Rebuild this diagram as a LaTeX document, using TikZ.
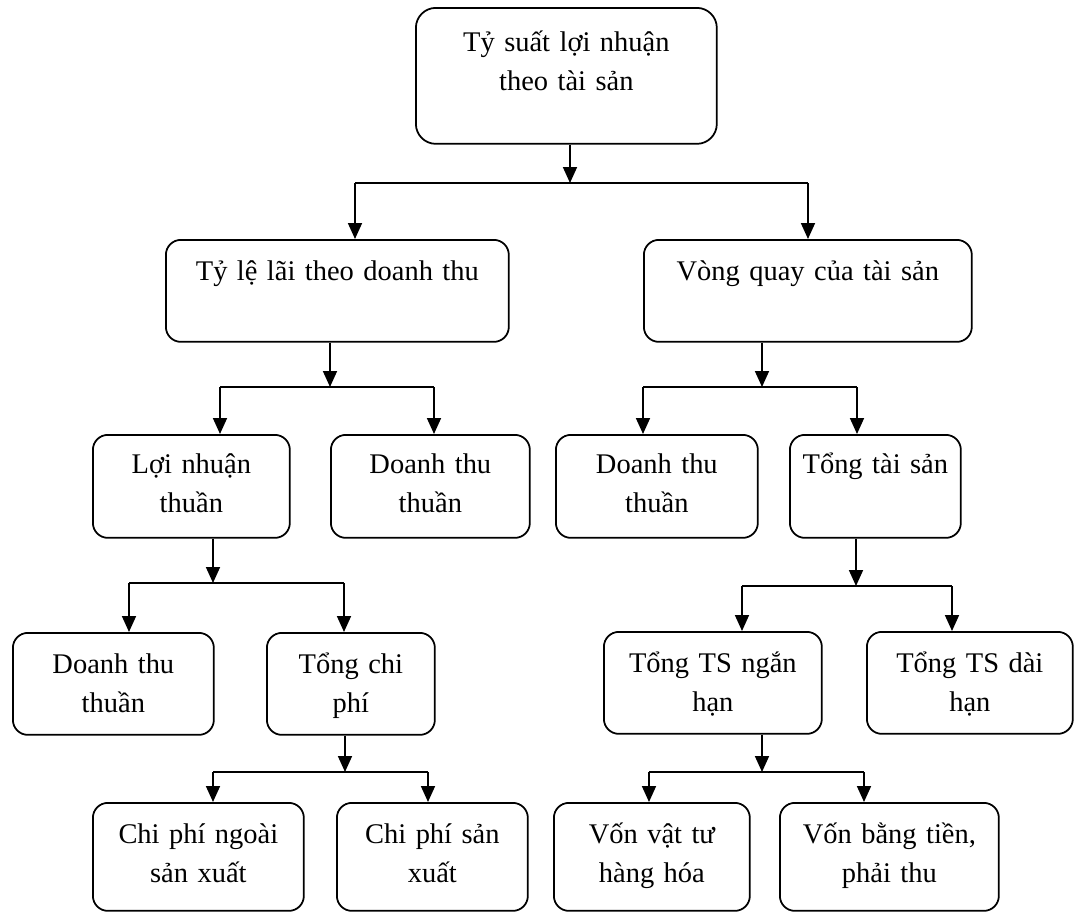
\documentclass[tikz,border=0pt]{standalone}
\usepackage{fontspec}
\setmainfont{Liberation Serif}
\usetikzlibrary{arrows.meta}

\begin{document}
\begin{tikzpicture}
	[x=0.02cm,y=-0.02cm,line width=1pt,every node/.style={draw,rounded corners=0.3cm,inner sep=0pt,align=center,anchor=north west,font=\fontsize{16.2}{22}\selectfont,text height=0.82cm,text depth=1.22cm}, edge/.style={->,> = {Triangle[length=0.32cm,width=0.28cm]}}]
	\useasboundingbox (0,0) rectangle (1086,913);
	
	\node[text width=6.02cm,text height=0.88cm,text depth=1.84cm,rounded corners=0.4cm] (tsln) at (415,7) {Tỷ suất lợi nhuận\\theo tài sản};
	
	\node[text width=6.86cm] (lai) at (165,239) {Tỷ lệ lãi theo doanh thu};
	\node[text width=6.56cm] (vong) at (643,239) {Vòng quay của tài sản};
	
	\node[text width=3.94cm,text height=0.78cm,text depth=1.28cm] (lnt) at (92,434) {Lợi nhuận\\thuần};
	\node[text width=3.98cm,text height=0.78cm,text depth=1.28cm] (dtt1) at (330,434) {Doanh thu\\thuần};
	\node[text width=4.04cm,text height=0.78cm,text depth=1.28cm] (dtt2) at (555,434) {Doanh thu\\thuần};
	\node[text width=3.42cm,text height=0.78cm,text depth=1.28cm] (tts) at (789,434) {Tổng tài sản};
	
	\node[text width=4.02cm] (dtt3) at (12,632) {Doanh thu\\thuần};
	\node[text width=3.36cm] (tcp) at (266,632) {Tổng chi\\phí};
	\node[text width=4.36cm] (tsnh) at (603,631) {Tổng TS ngắn\\hạn};
	\node[text width=4.12cm] (tsdh) at (866,631) {Tổng TS dài\\hạn};
	
	\node[text width=4.22cm,text depth=1.34cm] (cpnsx) at (92,802) {Chi phí ngoài\\sản xuất};
	\node[text width=3.82cm,text depth=1.34cm] (cpsx) at (336,802) {Chi phí sản\\xuất};
	\node[text width=3.92cm,text depth=1.34cm] (vvt) at (553,802) {Vốn vật tư\\hàng hóa};
	\node[text width=4.38cm,text depth=1.34cm] (vbt) at (779,802) {Vốn bằng tiền,\\phải thu};
	
	% branch points
	\coordinate (j1) at (570,183); \coordinate (j1l) at (355,183); \coordinate (j1r) at (808,183);
	\coordinate (j2) at (330,387); \coordinate (j2l) at (220,387); \coordinate (j2r) at (434,387);
	\coordinate (j3) at (762,387); \coordinate (j3l) at (643,387); \coordinate (j3r) at (857,387);
	\coordinate (j4) at (213,583); \coordinate (j4l) at (129,583); \coordinate (j4r) at (344,583);
	\coordinate (j5) at (856,586); \coordinate (j5l) at (742,586); \coordinate (j5r) at (952,586);
	\coordinate (j6) at (345,772); \coordinate (j6l) at (213,772); \coordinate (j6r) at (428,772);
	\coordinate (j7) at (762,772); \coordinate (j7l) at (649,772); \coordinate (j7r) at (864,772);
	
	\draw[edge] (tsln.south -| j1) -- (j1);
	\draw (j1l) -- (j1r);
	\draw[edge] (j1l) -- (j1l |- lai.north);
	\draw[edge] (j1r) -- (j1r |- vong.north);
	
	\draw[edge] (lai.south -| j2) -- (j2);
	\draw (j2l) -- (j2r);
	\draw[edge] (j2l) -- (j2l |- lnt.north);
	\draw[edge] (j2r) -- (j2r |- dtt1.north);
	
	\draw[edge] (vong.south -| j3) -- (j3);
	\draw (j3l) -- (j3r);
	\draw[edge] (j3l) -- (j3l |- dtt2.north);
	\draw[edge] (j3r) -- (j3r |- tts.north);
	
	\draw[edge] (lnt.south -| j4) -- (j4);
	\draw (j4l) -- (j4r);
	\draw[edge] (j4l) -- (j4l |- dtt3.north);
	\draw[edge] (j4r) -- (j4r |- tcp.north);
	
	\draw[edge] (tts.south -| j5) -- (j5);
	\draw (j5l) -- (j5r);
	\draw[edge] (j5l) -- (j5l |- tsnh.north);
	\draw[edge] (j5r) -- (j5r |- tsdh.north);
	
	\draw[edge] (tcp.south -| j6) -- (j6);
	\draw (j6l) -- (j6r);
	\draw[edge] (j6l) -- (j6l |- cpnsx.north);
	\draw[edge] (j6r) -- (j6r |- cpsx.north);
	
	\draw[edge] (tsnh.south -| j7) -- (j7);
	\draw (j7l) -- (j7r);
	\draw[edge] (j7l) -- (j7l |- vvt.north);
	\draw[edge] (j7r) -- (j7r |- vbt.north);
\end{tikzpicture}
\end{document}
